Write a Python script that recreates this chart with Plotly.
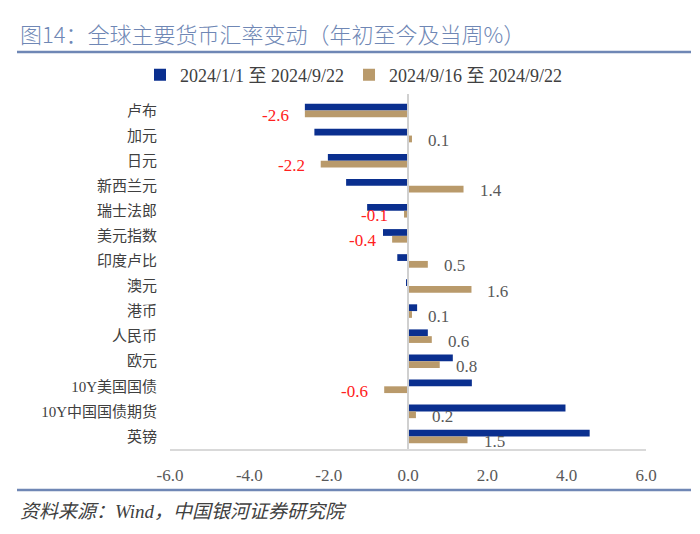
import plotly.graph_objects as go

categories = ["卢布", "加元", "日元", "新西兰元", "瑞士法郎", "美元指数", "印度卢比",
              "澳元", "港币", "人民币", "欧元", "10Y美国国债", "10Y中国国债期货", "英镑"]
ytd_values = [-2.6, -2.36, -2.02, -1.56, -1.03, -0.63, -0.27,
              -0.05, 0.23, 0.50, 1.13, 1.61, 3.97, 4.58]
week_values = [-2.6, 0.1, -2.2, 1.4, -0.1, -0.4, 0.5,
               1.6, 0.1, 0.6, 0.8, -0.6, 0.2, 1.5]
series_names = ["2024/1/1 至 2024/9/22", "2024/9/16 至 2024/9/22"]
x_ticks = [-6.0, -4.0, -2.0, 0.0, 2.0, 4.0, 6.0]

SERIF = "Liberation Serif, Noto Sans CJK SC, serif"
BLUE = "#0a2f8f"
TAN = "#b99a6b"
TITLE_C = "#6f87b5"

# page body has an 8px margin -> build figure in coordinates offset by 8px
OFF = 8
W, H = 700 - OFF, 534 - OFF
ML, MR, MT, MB = 170 - OFF, W - (646 - OFF), 94 - OFF, H - (449 - OFF)
pw, ph = W - ML - MR, H - MT - MB


def px_x(x):
    return (x - OFF - ML) / pw


def px_y(y):
    return 1 - (y - OFF - MT) / ph


fig = go.Figure()
fig.add_trace(go.Bar(y=categories, x=ytd_values, orientation="h", name=series_names[0],
                     marker=dict(color=BLUE, line=dict(width=0))))
fig.add_trace(go.Bar(y=categories, x=week_values, orientation="h", name=series_names[1],
                     marker=dict(color=TAN, line=dict(width=0))))

annotations = []
for c, v in zip(categories, week_values):
    neg = v < 0
    annotations.append(dict(
        x=v, y=c, xref="x", yref="y", text=f"{v:.1f}", showarrow=False,
        xanchor="right" if neg else "left", xshift=-14 if neg else 14, yshift=-5,
        font=dict(family=SERIF, size=17, color="#ff2020" if neg else "#595959")))

annotations.append(dict(x=px_x(18), y=px_y(33), xref="paper", yref="paper",
                        text="图14：全球主要货币汇率变动（年初至今及当周%）",
                        showarrow=False, xanchor="left", yanchor="middle",
                        font=dict(family="Noto Sans CJK SC", size=22, color=TITLE_C, weight=300)))
annotations.append(dict(x=px_x(18), y=px_y(511), xref="paper", yref="paper",
                        text="<i>资料来源：Wind，中国银河证券研究院</i>",
                        showarrow=False, xanchor="left", yanchor="middle",
                        font=dict(family=SERIF, size=19, color="#404040")))

shapes = []
for yy in (52, 490):
    shapes.append(dict(type="line", xref="paper", yref="paper",
                       x0=px_x(17), x1=px_x(691), y0=px_y(yy), y1=px_y(yy),
                       line=dict(color=TITLE_C, width=2.5)))
shapes.append(dict(type="line", xref="x", yref="paper", x0=0, x1=0, y0=0, y1=1,
                   line=dict(color="#d0d0d0", width=2)))

fig.update_layout(
    width=W, height=H,
    margin=dict(l=ML, r=MR, t=MT, b=MB),
    paper_bgcolor="white", plot_bgcolor="white",
    barmode="group", bargap=0.46, bargroupgap=0,
    showlegend=True,
    legend=dict(orientation="h", x=px_x(354), xanchor="center",
                y=px_y(75), yanchor="middle",
                font=dict(family=SERIF, size=18, color="#404040"),
                itemwidth=30, tracegroupgap=0),
    annotations=annotations,
    shapes=shapes,
    xaxis=dict(range=[-6, 6], tickvals=x_ticks, ticktext=[f"{t:.1f}" for t in x_ticks],
               showgrid=False, zeroline=False, showline=True, linecolor="#d9d9d9", linewidth=1.5,
               ticks="", ticklabelstandoff=10,
               tickfont=dict(family=SERIF, size=17, color="#595959")),
    yaxis=dict(autorange="reversed", showgrid=False, zeroline=False, showline=False,
               ticks="", ticklabelstandoff=12,
               tickfont=dict(family=SERIF, size=15, color="#404040")),
)

fig.write_html("out.html")
